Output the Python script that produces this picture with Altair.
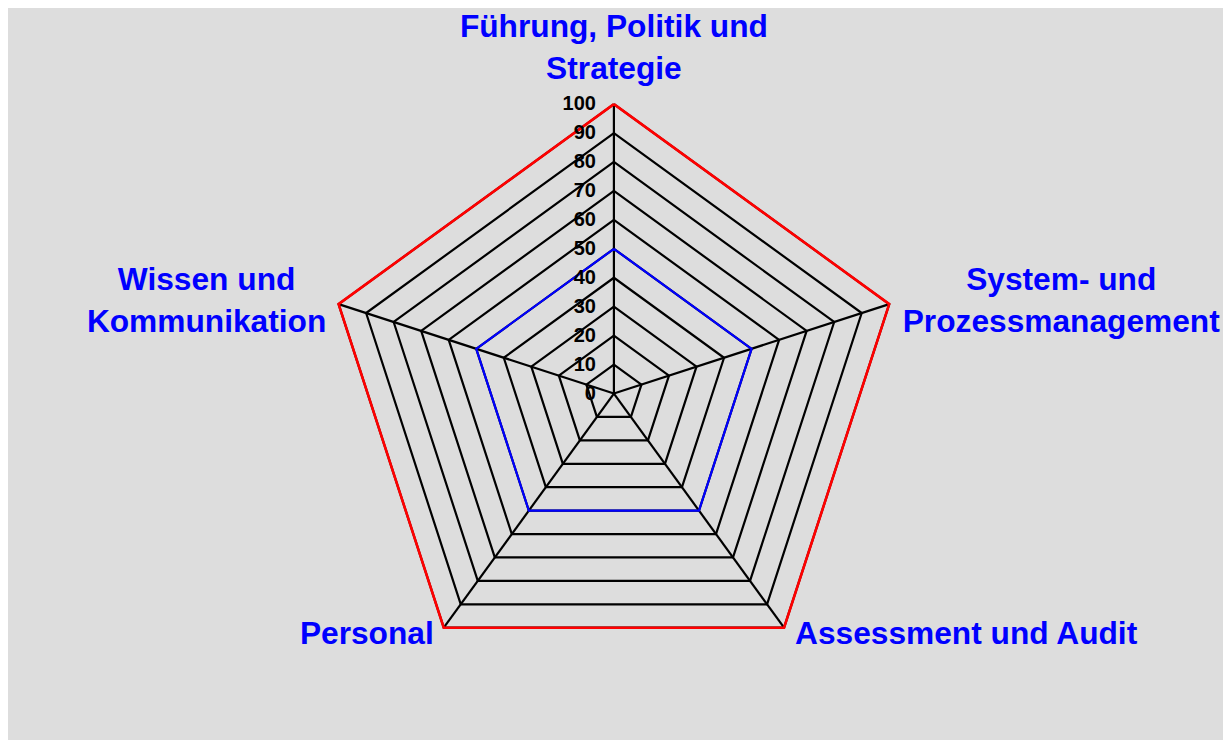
import altair as alt
import pandas as pd

# ---- data ----
categories = [
    "Führung, Politik und\nStrategie",
    "System- und\nProzessmanagement",
    "Assessment und Audit",
    "Personal",
    "Wissen und\nKommunikation",
]
values = [50, 50, 50, 50, 50]          # blue series
max_values = [100, 100, 100, 100, 100]  # red series
grid_levels = [10, 20, 30, 40, 50, 60, 70, 80, 90, 100]
tick_labels = [0, 10, 20, 30, 40, 50, 60, 70, 80, 90, 100]

n = len(categories)

# closed polygons: axis index 0..n, last repeats first
grid_df = pd.DataFrame(
    [{"level": lv, "k": k, "r": lv} for lv in grid_levels for k in range(n + 1)]
)
blue_df = pd.DataFrame([{"k": k, "r": values[k % n]} for k in range(n + 1)])
red_df = pd.DataFrame([{"k": k, "r": max_values[k % n]} for k in range(n + 1)])
spoke_df = pd.DataFrame([{"k": k, "r0": 0, "r": 100} for k in range(n)])
tick_df = pd.DataFrame([{"k": 0, "r": t, "label": str(t)} for t in tick_labels])
cat_df = pd.DataFrame([{"k": k, "r": 100, "label": c} for k, c in enumerate(categories)])

xs = alt.Scale(domain=[-209.3, 210.4], nice=False, zero=False)
ys = alt.Scale(domain=[-119.7, 133.2], nice=False, zero=False)


def polar(ch):
    return ch.transform_calculate(
        ang="datum.k * 2 * PI / %d" % n,
        px="datum.r * sin(datum.ang)",
        py="datum.r * cos(datum.ang)",
    )


X = alt.X("px:Q", scale=xs, axis=None)
Y = alt.Y("py:Q", scale=ys, axis=None)

grid = polar(alt.Chart(grid_df)).mark_line(color="black", strokeWidth=2.2).encode(
    x=X, y=Y, detail="level:N", order="k:Q"
)

spokes = (
    alt.Chart(spoke_df)
    .transform_calculate(
        ang="datum.k * 2 * PI / %d" % n,
        px="datum.r0 * sin(datum.ang)",
        py="datum.r0 * cos(datum.ang)",
        px2="datum.r * sin(datum.ang)",
        py2="datum.r * cos(datum.ang)",
    )
    .mark_rule(color="black", strokeWidth=2.2)
    .encode(x=X, y=Y, x2="px2:Q", y2="py2:Q")
)

red = polar(alt.Chart(red_df)).mark_line(color="#FF0000", strokeWidth=2.6).encode(
    x=X, y=Y, order="k:Q"
)
blue = polar(alt.Chart(blue_df)).mark_line(color="#0000FF", strokeWidth=2.2).encode(
    x=X, y=Y, order="k:Q"
)

ticks = polar(alt.Chart(tick_df)).mark_text(
    align="right", baseline="middle", dx=-18, fontSize=20, fontWeight="bold",
    font="Liberation Sans", color="black",
).encode(x=X, y=Y, text="label:N")


def cat_label(k, align, dx, dy):
    return (
        polar(alt.Chart(cat_df).transform_filter("datum.k == %d" % k))
        .mark_text(
            align=align, baseline="alphabetic", dx=dx, dy=dy, fontSize=31.7,
            fontWeight="bold", font="Liberation Sans", color="#0000FF",
            lineBreak="\n", lineHeight=42,
        )
        .encode(x=X, y=Y, text="label:N")
    )


labels = [
    cat_label(0, "center", 0, -67.5),
    cat_label(1, "center", 172, -14.5),
    cat_label(2, "left", 11, 16),
    cat_label(3, "right", -10, 16),
    cat_label(4, "center", -132, -14.5),
]

chart = (
    alt.layer(grid, spokes, red, blue, ticks, *labels)
    .properties(width=1215, height=732, background="#DDDDDD", padding=0, autosize="none")
    .configure_view(strokeWidth=0)
)

chart.save("out.html", embed_options={"renderer": "svg", "actions": False})
